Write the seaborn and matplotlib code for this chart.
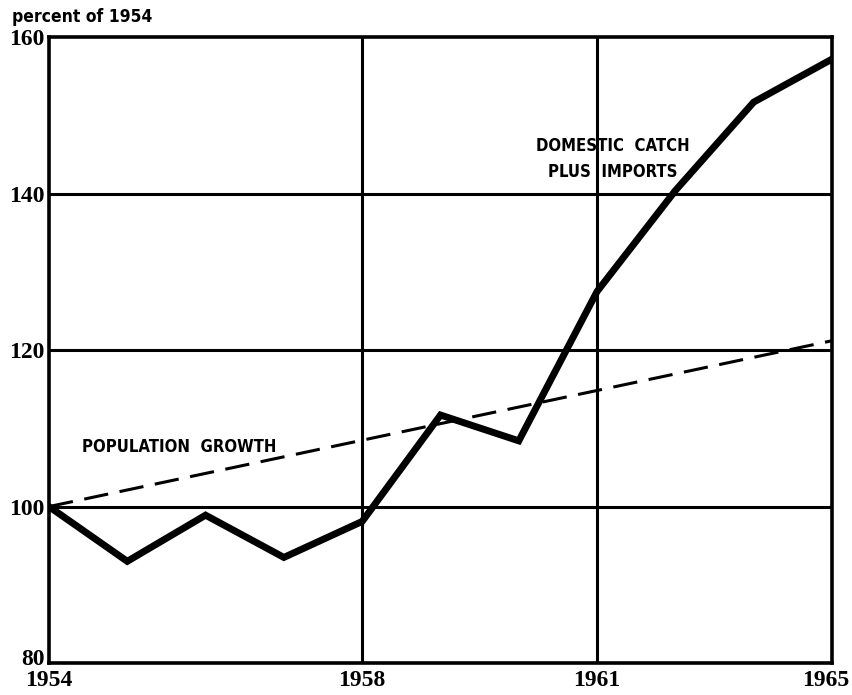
import pandas as pd
import matplotlib.pyplot as plt
import matplotlib.transforms as mtransforms
import seaborn as sns

# period index along the x axis (annual points)
period = [0, 1, 2, 3, 4, 5, 6, 7, 8, 9, 10]
catch_imports = [100, 93.0, 98.9, 93.5, 98.1, 111.7, 108.4, 127.5, 140.4, 151.7, 157.2]

pop_period = [0, 10]
pop_growth = [100, 121.2]

x_tick_pos = [0, 4, 7, 10]
x_tick_labels = ["1954", "1958", "1961", "1965"]
y_ticks = [80, 100, 120, 140, 160]

df_catch = pd.DataFrame({"period": period, "value": catch_imports})
df_pop = pd.DataFrame({"period": pop_period, "value": pop_growth})

sns.set_style("white")
plt.rcParams["font.family"] = ["DejaVu Sans"]
plt.rcParams["font.stretch"] = "condensed"
plt.rcParams["text.color"] = "black"

fig = plt.figure(figsize=(8.53, 6.95), dpi=100)
ax = fig.add_axes([0.0574, 0.046, 0.918, 0.9005])

# grid lines (only at the labelled values inside the frame)
for v in y_ticks[1:-1]:
    ax.axhline(v, color="black", lw=2.2, zorder=1)
for p in x_tick_pos[1:-1]:
    ax.axvline(p, color="black", lw=2.2, zorder=1)

sns.lineplot(data=df_pop, x="period", y="value", ax=ax, color="black",
             lw=2.2, zorder=2)
ax.lines[-1].set_dashes((8, 3.8))
sns.lineplot(data=df_catch, x="period", y="value", ax=ax, color="black",
             lw=5, zorder=3, solid_joinstyle="miter")

ax.set_xlim(0, 10)
ax.set_ylim(80, 160)
ax.set_xticks(x_tick_pos)
ax.set_xticklabels(x_tick_labels)
ax.set_yticks(y_ticks)
ax.set_yticklabels([str(v) for v in y_ticks])
ax.set_xlabel("")
ax.set_ylabel("")
ax.tick_params(length=0, labelsize=17, labelcolor="black")
ax.tick_params(axis="y", pad=3)
ax.tick_params(axis="x", pad=5)
for lab in ax.get_xticklabels() + ax.get_yticklabels():
    lab.set_family(["Liberation Serif", "DejaVu Serif"])
    lab.set_fontweight("bold")
    lab.set_stretch("normal")

# keep the last year label inside the figure, lift the bottom value label
last = ax.get_xticklabels()[-1]
last.set_transform(last.get_transform() +
                   mtransforms.ScaledTranslation(-6 / 100, 0, fig.dpi_scale_trans))
low = ax.get_yticklabels()[0]
low.set_transform(low.get_transform() +
                  mtransforms.ScaledTranslation(0, 6 / 100, fig.dpi_scale_trans))

for s in ax.spines.values():
    s.set_visible(True)
    s.set_color("black")
    s.set_linewidth(2.6)

fig.text(0.014, 0.976, "percent of 1954", fontsize=12.5, fontweight="bold",
         ha="left", va="center")
ax.text(7.2, 144.4, "DOMESTIC  CATCH\nPLUS  IMPORTS", fontsize=12,
        fontweight="bold", ha="center", va="center", linespacing=1.55)
ax.text(0.42, 107.6, "POPULATION  GROWTH", fontsize=12, fontweight="bold",
        ha="left", va="center")

fig.savefig("out.png", dpi=100, facecolor="white")
